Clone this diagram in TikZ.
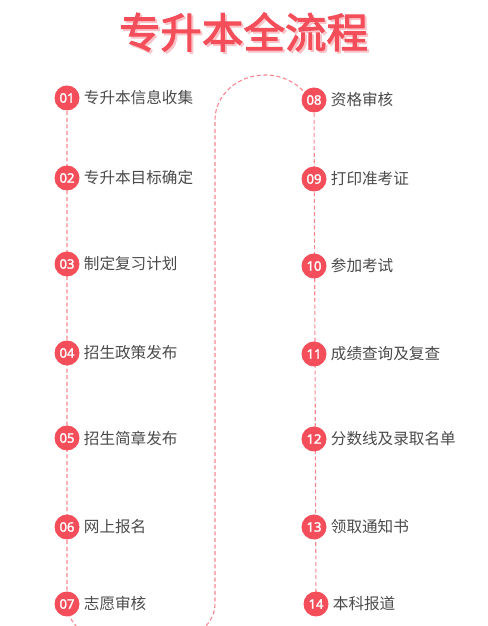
\documentclass[tikz,border=0pt]{standalone}
\usepackage{fontspec}
\setmainfont{Noto Sans}
\newfontfamily\numfont{Noto Sans}[FakeBold=2]
\newfontfamily\cjk{Noto Sans CJK SC}
\newfontfamily\cjkbold{Noto Sans CJK SC}[FakeBold=2.5]
\usepackage{tikz}
\usetikzlibrary{positioning,backgrounds}
\definecolor{acc}{HTML}{F44E5A}
\definecolor{soft}{HTML}{F8868F}
\definecolor{shade}{HTML}{FBC3C7}
\definecolor{txt}{HTML}{4A4A4A}
\newcommand\shadowed[1]{\makebox[0pt][l]{\hspace{2pt}\raisebox{-2pt}{\color{shade}#1}}#1}
\tikzset{
  num/.style={circle,fill=acc,minimum size=25pt,inner sep=0pt,text=white,font=\numfont\fontsize{13}{13}\selectfont},
  lab/.style={inner sep=0pt,text=txt,font=\cjk\fontsize{15.6}{15.6}\selectfont},
  flow/.style={draw=soft,line width=1.1pt,dash pattern=on 4pt off 2.6pt},
  ttl/.style={inner sep=0pt,text=acc,font=\cjkbold\fontsize{41.5}{41.5}\selectfont},
}
\begin{document}
\begin{tikzpicture}[x=1pt,y=1pt,node distance=4pt]
\useasboundingbox (0,0) rectangle (487,626);
% title
\node[ttl] (title) at (243.5,593) {\shadowed{专升本全流程}};
% left column
\node[num] (n01) at (67,528) {01}; \node[lab,right=of n01] (t01) {专升本信息收集};
\node[num] (n02) at (67,448) {02}; \node[lab,right=of n02] (t02) {专升本目标确定};
\node[num] (n03) at (67,362) {03}; \node[lab,right=of n03] (t03) {制定复习计划};
\node[num] (n04) at (67,273) {04}; \node[lab,right=of n04] (t04) {招生政策发布};
\node[num] (n05) at (67,188) {05}; \node[lab,right=of n05] (t05) {招生简章发布};
\node[num] (n06) at (67,99) {06}; \node[lab,right=of n06] (t06) {网上报名};
\node[num] (n07) at (67,22) {07}; \node[lab,right=of n07] (t07) {志愿审核};
% right column
\node[num] (n08) at (314,526) {08}; \node[lab,right=of n08] (t08) {资格审核};
\node[num] (n09) at (314,447) {09}; \node[lab,right=of n09] (t09) {打印准考证};
\node[num] (n10) at (314,360) {10}; \node[lab,right=of n10] (t10) {参加考试};
\node[num] (n11) at (314,272) {11}; \node[lab,right=of n11] (t11) {成绩查询及复查};
\node[num] (n12) at (314,187) {12}; \node[lab,right=of n12] (t12) {分数线及录取名单};
\node[num] (n13) at (314,99) {13}; \node[lab,right=of n13] (t13) {领取通知书};
\node[num] (n14) at (316,22) {14}; \node[lab,right=of n14] (t14) {本科报道};
\begin{scope}[on background layer]
\draw[flow] (n01.center) -- (n07.center) arc[start angle=180,end angle=360,x radius=74,y radius=46]
  -- (215,506) arc[start angle=180,end angle=26,x radius=50,y radius=45] -- (n08.center);
\draw[flow] (n08.center) -- (n14.center);
\end{scope}
\end{tikzpicture}
\end{document}
